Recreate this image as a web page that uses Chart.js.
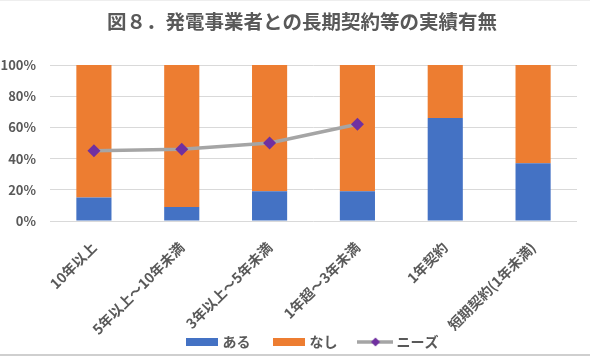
<!DOCTYPE html>
<html>
<head>
<meta charset="utf-8">
<script src="https://cdn.jsdelivr.net/npm/chart.js@4/dist/chart.umd.min.js"></script>
<style>
html,body{margin:0;padding:0;background:#fff;}
#wrap{width:590px;height:356px;position:relative;}
</style>
</head>
<body>
<div id="wrap"><canvas id="c" width="590" height="356"></canvas></div>
<script>
const titleText = '図８．発電事業者との長期契約等の実績有無';
const categories = ['10年以上', '5年以上～10年未満', '3年以上～5年未満', '1年超～3年未満', '1年契約', '短期契約(1年未満)'];
const aruValues = [15, 9, 19, 19, 66, 37];
const nashiValues = [85, 91, 81, 81, 34, 63];
const needsValues = [45, 46, 50, 62, null, null];
const yTicks = [0, 20, 40, 60, 80, 100];
const seriesNames = ['ある', 'なし', 'ニーズ'];

const FONT = '"Noto Sans CJK JP", "Noto Sans", sans-serif';
const TEXT = '#595959';
const BLUE = '#4472C4', ORANGE = '#ED7D31', GRAY = '#A5A5A5', PURPLE = '#7030A0';

function boxIcon(color) {
  const c = document.createElement('canvas');
  c.width = 32; c.height = 8;
  const x = c.getContext('2d');
  x.fillStyle = color; x.fillRect(0, 0, 32, 8);
  return c;
}
function lineIcon() {
  const c = document.createElement('canvas');
  c.width = 36; c.height = 12;
  const x = c.getContext('2d');
  x.strokeStyle = GRAY; x.lineWidth = 3.5;
  x.beginPath(); x.moveTo(0, 6); x.lineTo(36, 6); x.stroke();
  x.fillStyle = PURPLE;
  x.beginPath(); x.moveTo(18, 1.5); x.lineTo(22.5, 6); x.lineTo(18, 10.5); x.lineTo(13.5, 6); x.closePath(); x.fill();
  return c;
}
const icons = [boxIcon(BLUE), boxIcon(ORANGE), lineIcon()];

const bgPlugin = {
  id: 'bg',
  afterLayout(chart) {
    const lg = chart.legend;
    if (lg) {
      lg.top = 311; lg.bottom = chart.height;
      lg.height = lg.bottom - lg.top;
      lg.left = 46; lg.right = 580;
      lg.width = lg.right - lg.left;
    }
  },
  beforeDraw(chart) {
    const ctx = chart.ctx;
    ctx.save();
    ctx.fillStyle = '#fff';
    ctx.fillRect(0, 0, chart.width, chart.height);
    ctx.fillStyle = '#eeeeee';
    ctx.fillRect(0, 0, chart.width, 1);
    ctx.fillStyle = '#cfcfcf';
    ctx.fillRect(0, chart.height - 2, chart.width, 2);
    ctx.restore();
  },
  afterDraw(chart) {
    const ctx = chart.ctx;
    ctx.save();
    ctx.fillStyle = TEXT;
    ctx.font = 'bold 19.5px ' + FONT;
    ctx.textAlign = 'center';
    ctx.textBaseline = 'middle';
    ctx.fillText(titleText, 302, 22);
    ctx.restore();
  }
};

new Chart(document.getElementById('c'), {
  data: {
    labels: categories,
    datasets: [
      { type: 'bar', label: seriesNames[0], data: aruValues, backgroundColor: BLUE, stack: 's', order: 2,
        categoryPercentage: 1, barPercentage: 0.4 },
      { type: 'bar', label: seriesNames[1], data: nashiValues, backgroundColor: ORANGE, stack: 's', order: 2,
        categoryPercentage: 1, barPercentage: 0.4 },
      { type: 'line', label: seriesNames[2], data: needsValues, borderColor: GRAY, borderWidth: 3.5,
        pointStyle: 'rectRot', pointRadius: 6.5, pointHoverRadius: 6.5,
        pointBackgroundColor: PURPLE, pointBorderColor: PURPLE, pointBorderWidth: 0,
        tension: 0, spanGaps: false, stack: 'needs', order: 0, fill: false }
    ]
  },
  options: {
    responsive: false,
    animation: false,
    events: [],
    layout: { padding: { left: 0, right: 13, top: 65, bottom: 0 } },
    plugins: {
      title: { display: false },
      legend: {
        position: 'bottom',
        maxHeight: 20,
        labels: {
          usePointStyle: true,
          pointStyleWidth: 28,
          padding: 24,
          color: TEXT,
          font: { family: FONT, size: 14, weight: 'bold' },
          generateLabels(chart) {
            return seriesNames.map((n, i) => ({
              text: n, pointStyle: icons[i], datasetIndex: i, hidden: false,
              fillStyle: 'transparent', strokeStyle: 'transparent', lineWidth: 0, fontColor: TEXT
            }));
          }
        }
      },
      tooltip: { enabled: false }
    },
    scales: {
      x: {
        stacked: true,
        grid: { display: false, drawTicks: false },
        border: { display: false },
        ticks: {
          minRotation: 45, maxRotation: 45, autoSkip: false, padding: 18,
          color: TEXT, font: { family: FONT, size: 14, weight: 'bold' }
        },
        afterFit(s) { s.height = 115; }
      },
      y: {
        stacked: true,
        min: 0, max: 100,
        afterBuildTicks(s) { s.ticks = yTicks.map(v => ({ value: v })); },
        grid: { color: '#d9d9d9', lineWidth: 1, drawTicks: false },
        border: { display: false },
        ticks: {
          padding: 14, color: TEXT,
          font: { family: FONT, size: 13, weight: 'bold' },
          callback: v => v + '%'
        },
        afterFit(s) { s.width = 50; }
      }
    }
  },
  plugins: [bgPlugin]
});
</script>
</body>
</html>
